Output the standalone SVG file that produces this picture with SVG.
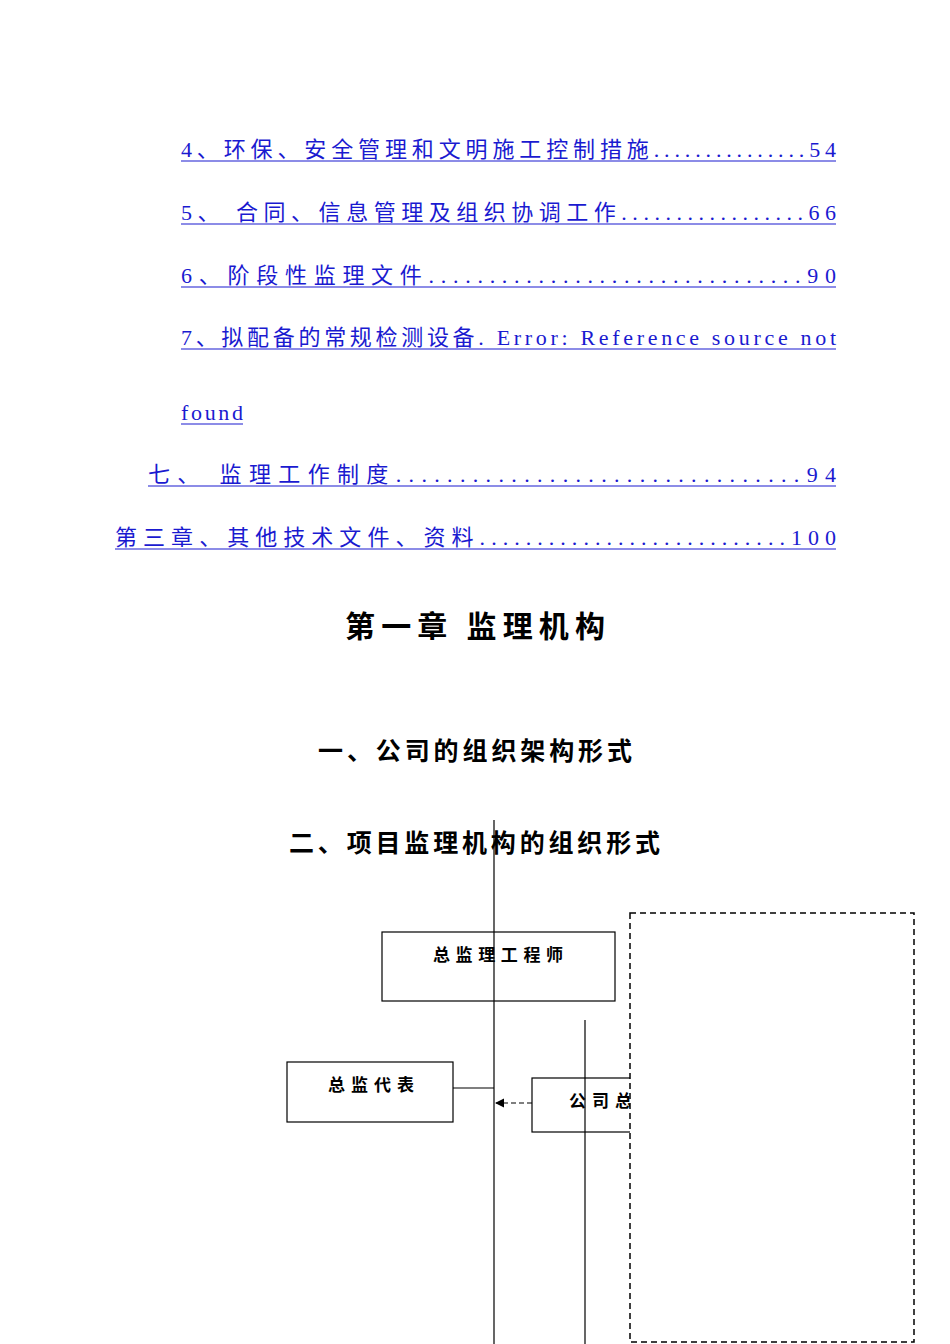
<svg xmlns="http://www.w3.org/2000/svg" width="950" height="1344" viewBox="0 0 950 1344">
<style>
.toc{font-family:"Liberation Serif","Noto Sans CJK SC",serif;font-size:22px;fill:#1a1ad0}
.ul{stroke:#1a1ad0;stroke-width:1.2}
.h{font-family:"Noto Sans CJK SC",sans-serif;font-weight:bold;fill:#000}
.box{fill:#fff;stroke:#000;stroke-width:1.2}
.bt{font-family:"Noto Sans CJK SC",sans-serif;font-weight:bold;font-size:17px}
.ln{stroke:#000;stroke-width:1.2;fill:none}
</style>
<defs><marker id="ar" markerWidth="8" markerHeight="8" refX="7" refY="4" orient="auto"><path d="M0,0L8,4L0,8z" fill="#000"/></marker></defs>
<rect width="950" height="1344" fill="#fff"/>
<g id="toc">
<text class="toc" x="181" y="157" textLength="655" lengthAdjust="spacing">4、环保、安全管理和文明施工控制措施...............54</text>
<line class="ul" x1="181" y1="161" x2="836" y2="161"/>
<text class="toc" x="181" y="220" textLength="655" lengthAdjust="spacing">5、 合同、信息管理及组织协调工作.................66</text>
<line class="ul" x1="181" y1="224" x2="836" y2="224"/>
<text class="toc" x="181" y="283" textLength="655" lengthAdjust="spacing">6、阶段性监理文件...............................90</text>
<line class="ul" x1="181" y1="287" x2="836" y2="287"/>
<text class="toc" x="181" y="345" textLength="655" lengthAdjust="spacing">7、拟配备的常规检测设备. Error: Reference source not</text>
<line class="ul" x1="181" y1="349" x2="836" y2="349"/>
<text class="toc" x="181" y="420" textLength="62" lengthAdjust="spacing">found</text>
<line class="ul" x1="181" y1="424" x2="243" y2="424"/>
<text class="toc" x="148" y="482" textLength="688" lengthAdjust="spacing">七、 监理工作制度................................94</text>
<line class="ul" x1="148" y1="486" x2="836" y2="486"/>
<text class="toc" x="115" y="545" textLength="721" lengthAdjust="spacing">第三章、其他技术文件、资料...........................100</text>
<line class="ul" x1="115" y1="549" x2="836" y2="549"/>
</g>
<text class="h" x="345" y="637" font-size="30" textLength="260" lengthAdjust="spacing">第一章  监理机构</text>
<text class="h" x="318" y="760" font-size="25" textLength="314" lengthAdjust="spacing">一、公司的组织架构形式</text>
<text class="h" x="289" y="852" font-size="25" textLength="371" lengthAdjust="spacing">二、项目监理机构的组织形式</text>
<g id="n1"><rect class="box" x="382" y="932" width="233" height="69"/><text class="bt" x="433" y="961" textLength="130" lengthAdjust="spacing">总监理工程师</text></g>
<g id="n2"><rect class="box" x="287" y="1062" width="166" height="60"/><text class="bt" x="328" y="1091" textLength="86" lengthAdjust="spacing">总监代表</text></g>
<g id="n3"><rect class="box" x="532" y="1078" width="120" height="54"/><text class="bt" x="569" y="1107" textLength="63" lengthAdjust="spacing">公司总</text></g>
<g id="connectors">
<line class="ln" x1="494" y1="820" x2="494" y2="1344"/>
<line class="ln" x1="585" y1="1020" x2="585" y2="1344"/>
<line class="ln" x1="453" y1="1088" x2="494" y2="1088"/>
<line class="ln" x1="532" y1="1103" x2="496" y2="1103" stroke-dasharray="5,3" marker-end="url(#ar)"/>
</g>
<g id="dashed"><rect x="630" y="913" width="284" height="429" fill="#fff" stroke="#000" stroke-width="1.5" stroke-dasharray="6,4"/></g>
</svg>
